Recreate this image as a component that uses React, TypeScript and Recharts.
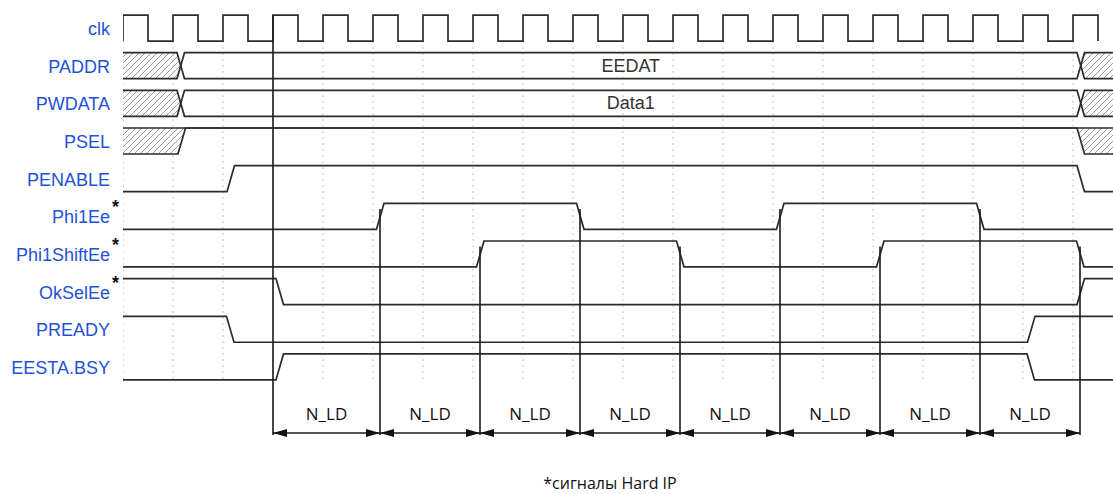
import React from 'react';
import { ComposedChart, Line, Area, Scatter, XAxis, YAxis } from 'recharts';

// row names, top to bottom
const SIGNALS = ['clk', 'PADDR', 'PWDATA', 'PSEL', 'PENABLE', 'Phi1Ee', 'Phi1ShiftEe', 'OkSelEe', 'PREADY', 'EESTA.BSY'];
const STARRED = ['Phi1Ee', 'Phi1ShiftEe', 'OkSelEe'];

// clk level per half period, from the first rising edge (t in clock cycles)
const CLK_LEVELS = [
  1, 0, 1, 0, 1, 0, 1, 0, 1, 0, 1, 0, 1, 0, 1, 0, 1, 0, 1, 0,
  1, 0, 1, 0, 1, 0, 1, 0, 1, 0, 1, 0, 1, 0, 1, 0, 1, 0, 1, 0,
];

// bus signals: valid window [from, to] and value shown
const PADDR_VALID = [1.08, 19.08];
const PADDR_VALUE = 'EEDAT';
const PWDATA_VALID = [1.08, 19.08];
const PWDATA_VALUE = 'Data1';
const PSEL_VALID = [1.1, 19.08];

// single-bit signals: initial level and switching times
const PENABLE_INIT = 0;
const PENABLE_EDGES = [2.08, 19.08];
const PHI1_INIT = 0;
const PHI1_EDGES = [5.07, 9.07, 13.07, 17.07];
const PHI1SHIFT_INIT = 0;
const PHI1SHIFT_EDGES = [7.07, 11.07, 15.07, 19.07];
const OKSEL_INIT = 1;
const OKSEL_EDGES = [3.06, 19.08];
const PREADY_INIT = 1;
const PREADY_EDGES = [2.07, 18.09];
const BSY_INIT = 0;
const BSY_EDGES = [3.06, 18.08];

// N_LD interval markers and the row each marker line starts from
const MARKERS = [3.0, 5.14, 7.14, 9.14, 11.14, 13.14, 15.14, 17.14, 19.14];
const MARKER_FROM = ['clk', 'Phi1Ee', 'Phi1ShiftEe', 'Phi1Ee', 'Phi1ShiftEe', 'Phi1Ee', 'Phi1ShiftEe', 'Phi1Ee', 'Phi1ShiftEe'];
const SPAN_LABEL = 'N_LD';
const FOOTNOTE = '*сигналы Hard IP';

const T_END = 19.8;
const SLEW = 0.15;
const LOW = 0.69;
const ARROW_V = 11.1;
const SPAN_TEXT_V = 10.57;
const MARKER_END_V = 11.15;

const INK = '#2b2b2b';
const LABEL_BLUE = '#1f52d6';
const ARIAL = "'Liberation Sans', Arial, sans-serif";
const CALIBRI = "'Open Sans', 'Noto Sans', sans-serif";

const row = (name: string) => SIGNALS.indexOf(name);
const lvl = (name: string, level: number) => row(name) + (level ? 0 : LOW);

function bitWave(name: string, init: number, edges: number[]) {
  const pts: { t: number; v: number }[] = [{ t: 0, v: lvl(name, init) }];
  let cur = init;
  edges.forEach(e => {
    pts.push({ t: e, v: lvl(name, cur) });
    cur = cur ? 0 : 1;
    pts.push({ t: e + SLEW, v: lvl(name, cur) });
  });
  pts.push({ t: T_END, v: lvl(name, cur) });
  return pts;
}

function busLines(name: string, valid: number[]) {
  const top = row(name), bot = row(name) + LOW;
  const [a, b] = valid;
  return [
    [{ t: 0, v: top }, { t: a, v: top }, { t: a + SLEW, v: bot }, { t: b, v: bot }, { t: b + SLEW, v: top }, { t: T_END, v: top }],
    [{ t: 0, v: bot }, { t: a, v: bot }, { t: a + SLEW, v: top }, { t: b, v: top }, { t: b + SLEW, v: bot }, { t: T_END, v: bot }],
  ];
}

function busHatch(name: string, valid: number[]) {
  const top = row(name), bot = row(name) + LOW, mid = (top + bot) / 2;
  const [a, b] = valid;
  return [
    [{ t: 0, r: [top, bot] }, { t: a, r: [top, bot] }, { t: a + SLEW / 2, r: [mid, mid] }],
    [{ t: b + SLEW / 2, r: [mid, mid] }, { t: b + SLEW, r: [top, bot] }, { t: T_END, r: [top, bot] }],
  ];
}

const clkData = [{ t: 0, v: lvl('clk', 0) }, ...CLK_LEVELS.map((l, i) => ({ t: i * 0.5, v: lvl('clk', l) }))];
const gridTimes = CLK_LEVELS.map((l, i) => ({ l, t: i * 0.5 })).filter(d => d.l === 1).map(d => d.t);

const pselTop = [{ t: 0, v: row('PSEL') }, { t: T_END, v: row('PSEL') }];
const pselWave = bitWave('PSEL', 0, PSEL_VALID);
const pselHatch = [
  [{ t: 0, r: [row('PSEL'), lvl('PSEL', 0)] }, { t: PSEL_VALID[0], r: [row('PSEL'), lvl('PSEL', 0)] }, { t: PSEL_VALID[0] + SLEW, r: [row('PSEL'), row('PSEL')] }],
  [{ t: PSEL_VALID[1], r: [row('PSEL'), row('PSEL')] }, { t: PSEL_VALID[1] + SLEW, r: [row('PSEL'), lvl('PSEL', 0)] }, { t: T_END, r: [row('PSEL'), lvl('PSEL', 0)] }],
];

const busDefs = [
  { name: 'PADDR', valid: PADDR_VALID, value: PADDR_VALUE },
  { name: 'PWDATA', valid: PWDATA_VALID, value: PWDATA_VALUE },
];

const bitDefs = [
  bitWave('PENABLE', PENABLE_INIT, PENABLE_EDGES),
  bitWave('Phi1Ee', PHI1_INIT, PHI1_EDGES),
  bitWave('Phi1ShiftEe', PHI1SHIFT_INIT, PHI1SHIFT_EDGES),
  bitWave('OkSelEe', OKSEL_INIT, OKSEL_EDGES),
  bitWave('PREADY', PREADY_INIT, PREADY_EDGES),
  bitWave('EESTA.BSY', BSY_INIT, BSY_EDGES),
];

const busText = busDefs.map(b => ({ t: (b.valid[0] + SLEW + b.valid[1]) / 2, v: row(b.name) + LOW / 2, label: b.value }));
const spanText = MARKERS.slice(1).map((m, i) => ({ t: (MARKERS[i] + m) / 2, v: SPAN_TEXT_V, label: SPAN_LABEL }));
const heads = MARKERS.slice(1).flatMap((m, i) => [
  { t: MARKERS[i], v: ARROW_V, dir: -1 },
  { t: m, v: ARROW_V, dir: 1 },
]);

const SignalTick = (props: any) => {
  const { x, y, payload } = props;
  const name = SIGNALS[Math.round(payload.value - LOW / 2)];
  return (
    <g>
      <text x={x} y={y + 1} textAnchor="end" dominantBaseline="central" fill={LABEL_BLUE}
        fontFamily={ARIAL} fontSize={18}>{name}</text>
      {STARRED.includes(name) && (
        <text x={x + 2} y={y - 3} fill="#111" fontFamily={ARIAL} fontSize={18} fontWeight="bold">*</text>
      )}
    </g>
  );
};

const TextShape = (font: string, size: number, color: string) => (p: any) => (
  <text x={p.cx} y={p.cy} textAnchor="middle" dominantBaseline="central" fill={color}
    fontFamily={font} fontSize={size}>{p.payload.label}</text>
);

const HeadShape = (p: any) => {
  const d = p.payload.dir;
  const { cx, cy } = p;
  return <polygon points={`${cx},${cy} ${cx - d * 14},${cy - 4} ${cx - d * 14},${cy + 4}`} fill="#111" />;
};

const common = { dot: false, activeDot: false, isAnimationActive: false, type: 'linear' as const, dataKey: 'v', legendType: 'none' as const };

export default function App() {
  return (
    <div style={{ position: 'absolute', left: 0, top: 0, width: 1113, height: 494, background: '#fff' }}>
      <svg width={0} height={0} style={{ position: 'absolute' }}>
        <defs>
          <pattern id="hatch" patternUnits="userSpaceOnUse" width={6} height={6}>
            <path d="M-1,1 l2,-2 M0,6 l6,-6 M5,7 l2,-2" stroke="#9a9a9a" strokeWidth={1} />
          </pattern>
        </defs>
      </svg>
      <ComposedChart width={1113} height={494} margin={{ top: 0, right: 0, bottom: 0, left: 0 }}>
        <XAxis dataKey="t" type="number" domain={[0, T_END]} allowDataOverflow hide />
        <YAxis type="number" domain={[-0.4, 12.72]} reversed allowDataOverflow width={123}
          ticks={SIGNALS.map((_, i) => i + LOW / 2)} interval={0}
          axisLine={false} tickLine={false} tickSize={0} tickMargin={13} tick={<SignalTick />} />

        {gridTimes.map(t => (
          <Line key={`g${t}`} {...common} data={[{ t, v: lvl('clk', 0) }, { t, v: lvl('EESTA.BSY', 0) }]}
            stroke="#c4c4c4" strokeWidth={1} strokeDasharray="2 4" />
        ))}

        {busDefs.flatMap(b => busHatch(b.name, b.valid)).concat(pselHatch).map((d, i) => (
          <Area key={`h${i}`} data={d} dataKey="r" type="linear" stroke="none" fill="url(#hatch)" fillOpacity={1}
            dot={false} activeDot={false} isAnimationActive={false} legendType="none" />
        ))}

        <Line {...common} type="stepAfter" data={clkData} stroke={INK} strokeWidth={1.7} />
        {busDefs.flatMap(b => busLines(b.name, b.valid)).map((d, i) => (
          <Line key={`b${i}`} {...common} data={d} stroke={INK} strokeWidth={1.7} />
        ))}
        <Line {...common} data={pselTop} stroke={INK} strokeWidth={1.7} />
        <Line {...common} data={pselWave} stroke={INK} strokeWidth={1.7} />
        {bitDefs.map((d, i) => (
          <Line key={`s${i}`} {...common} data={d} stroke={INK} strokeWidth={1.7} />
        ))}

        {MARKERS.map((m, i) => (
          <Line key={`m${i}`} {...common}
            data={[{ t: m, v: MARKER_FROM[i] === 'clk' ? row('clk') : row(MARKER_FROM[i]) + 0.15 }, { t: m, v: MARKER_END_V }]}
            stroke="#1a1a1a" strokeWidth={1.6} />
        ))}
        <Line {...common} data={[{ t: MARKERS[0], v: ARROW_V }, { t: MARKERS[MARKERS.length - 1], v: ARROW_V }]}
          stroke="#1a1a1a" strokeWidth={1.6} />
        <Scatter data={heads} dataKey="v" shape={HeadShape} isAnimationActive={false} legendType="none" />

        <Scatter data={busText} dataKey="v" isAnimationActive={false} legendType="none"
          shape={TextShape(ARIAL, 18, '#333')} />
        <Scatter data={spanText} dataKey="v" isAnimationActive={false} legendType="none"
          shape={TextShape(CALIBRI, 17, '#111')} />
      </ComposedChart>
      <div style={{ position: 'absolute', left: 610, top: 472, transform: 'translateX(-50%)', whiteSpace: 'nowrap',
        fontFamily: CALIBRI, fontSize: 16, color: '#111' }}>{FOOTNOTE}</div>
    </div>
  );
}
